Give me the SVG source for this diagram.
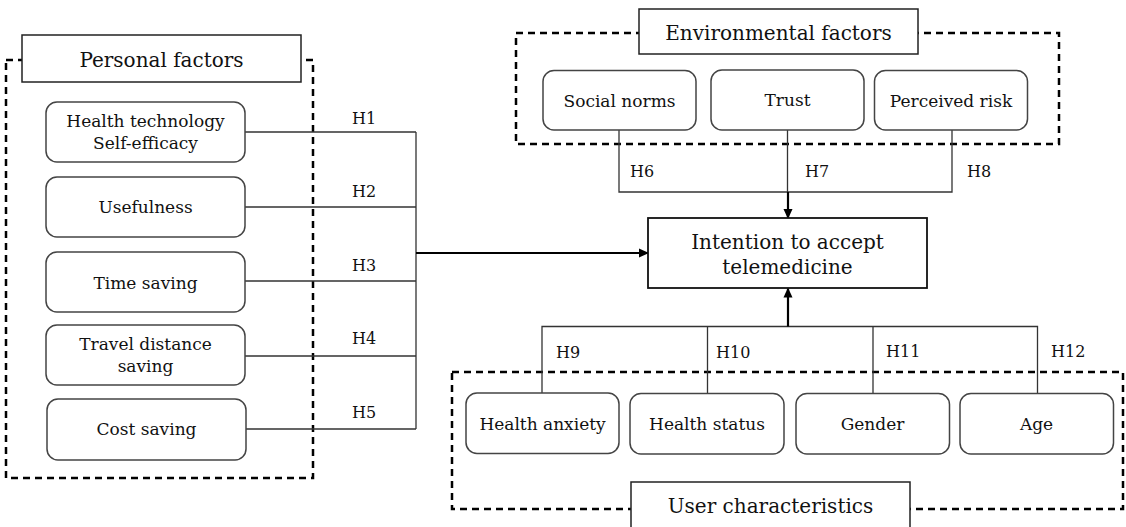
<svg xmlns="http://www.w3.org/2000/svg" width="1126" height="527" viewBox="0 0 1126 527">
<style>
.grp{fill:none;stroke:#000;stroke-width:2.5;stroke-dasharray:7 5}
.lbl{fill:#fff;stroke:#222;stroke-width:1.5}
.node{fill:#fff;stroke:#444;stroke-width:1.5}
.main{fill:#fff;stroke:#111;stroke-width:1.8}
.ln{fill:none;stroke:#333;stroke-width:1.3}
.arr{fill:none;stroke:#000;stroke-width:2.2}
text{font-family:"DejaVu Serif","Liberation Serif",serif;fill:#111;text-anchor:middle}
.t20{font-size:20px}
.t17{font-size:17px}
.h{font-size:16px;text-anchor:start}
</style>
<defs>
<marker id="ah" markerWidth="10" markerHeight="10" refX="9" refY="5" orient="auto" markerUnits="userSpaceOnUse">
<path d="M0,0.5 L10,5 L0,9.5 Z" fill="#000"/>
</marker>
</defs>

<g id="personal-factors">
<rect class="grp" x="6" y="60" width="307" height="418"/>
<rect class="lbl" x="22" y="35" width="279" height="47"/>
<text class="t20" x="161.5" y="66.5">Personal factors</text>
</g>
<g id="environmental-factors">
<rect class="grp" x="516" y="33" width="543" height="111"/>
<rect class="lbl" x="639" y="9" width="279" height="45"/>
<text class="t20" x="778.5" y="39.5">Environmental factors</text>
</g>
<g id="user-characteristics">
<rect class="grp" x="452" y="372" width="671" height="137"/>
<rect class="lbl" x="631" y="482" width="279" height="60"/>
<text class="t20" x="770.5" y="513">User characteristics</text>
</g>

<g id="connectors">
<path class="ln" d="M245,132 H416 M245,207 H416 M245,281 H416 M245,356 H416 M246,429 H416 M416,132 V429"/>
<path class="arr" d="M416,253 H648" marker-end="url(#ah)"/>
<path class="ln" d="M619,130 V192 H952 V130 M787.5,130 V192"/>
<path class="arr" d="M788,192 V218" marker-end="url(#ah)"/>
<path class="ln" d="M542,393 V326.5 H1037.5 V393 M707.5,326.5 V393 M873,326.5 V393"/>
<path class="arr" d="M788,326.5 V288.5" marker-end="url(#ah)"/>
<text class="h" x="352" y="123.5">H1</text>
<text class="h" x="352" y="197">H2</text>
<text class="h" x="352" y="271">H3</text>
<text class="h" x="352" y="344">H4</text>
<text class="h" x="352" y="417.5">H5</text>
<text class="h" x="630" y="177">H6</text>
<text class="h" x="805" y="177">H7</text>
<text class="h" x="967" y="177">H8</text>
<text class="h" x="556" y="357.5">H9</text>
<text class="h" x="716" y="357.5">H10</text>
<text class="h" x="886" y="357">H11</text>
<text class="h" x="1051" y="357">H12</text>
</g>

<g id="health-tech-self-efficacy">
<rect class="node" x="46" y="102" width="199" height="60" rx="11"/>
<text class="t17" x="145.5" y="127">Health technology</text>
<text class="t17" x="145.5" y="148.5">Self-efficacy</text>
</g>
<g id="usefulness">
<rect class="node" x="46" y="177" width="199" height="60" rx="11"/>
<text class="t17" x="145.5" y="213">Usefulness</text>
</g>
<g id="time-saving">
<rect class="node" x="46" y="252" width="199" height="60" rx="11"/>
<text class="t17" x="145.5" y="288.5">Time saving</text>
</g>
<g id="travel-distance-saving">
<rect class="node" x="46" y="325" width="199" height="60" rx="11"/>
<text class="t17" x="145.5" y="350">Travel distance</text>
<text class="t17" x="145.5" y="372">saving</text>
</g>
<g id="cost-saving">
<rect class="node" x="47" y="399" width="199" height="61" rx="11"/>
<text class="t17" x="146.5" y="435">Cost saving</text>
</g>

<g id="social-norms">
<rect class="node" x="543" y="70.5" width="153" height="59.5" rx="11"/>
<text class="t17" x="619.5" y="106.5">Social norms</text>
</g>
<g id="trust">
<rect class="node" x="711" y="70" width="153" height="60" rx="11"/>
<text class="t17" x="787.5" y="106">Trust</text>
</g>
<g id="perceived-risk">
<rect class="node" x="874.5" y="70.5" width="153" height="59.5" rx="11"/>
<text class="t17" x="951" y="106.5">Perceived risk</text>
</g>

<g id="intention">
<rect class="main" x="648" y="218" width="279" height="70"/>
<text class="t20" x="787.5" y="249">Intention to accept</text>
<text class="t20" x="787.5" y="273.5">telemedicine</text>
</g>

<g id="health-anxiety">
<rect class="node" x="466" y="393" width="153" height="60.5" rx="11"/>
<text class="t17" x="542.5" y="429.5">Health anxiety</text>
</g>
<g id="health-status">
<rect class="node" x="630" y="393.5" width="154" height="60.5" rx="11"/>
<text class="t17" x="707" y="429.5">Health status</text>
</g>
<g id="gender">
<rect class="node" x="796" y="393.5" width="153.5" height="60.5" rx="11"/>
<text class="t17" x="872.5" y="430">Gender</text>
</g>
<g id="age">
<rect class="node" x="960" y="393.5" width="153.5" height="60.5" rx="11"/>
<text class="t17" x="1036.5" y="430">Age</text>
</g>
</svg>
